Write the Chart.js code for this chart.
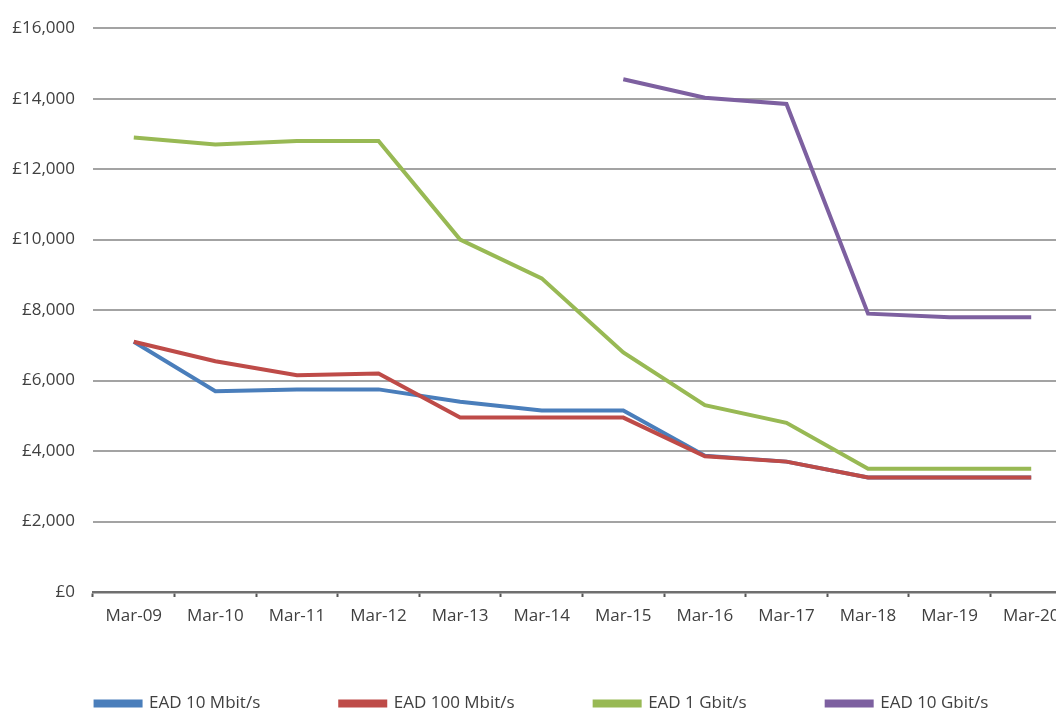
<!DOCTYPE html>
<html>
<head>
<meta charset="utf-8">
<script src="https://cdn.jsdelivr.net/npm/chart.js@4"></script>
<style>
  html, body { margin: 0; padding: 0; background: #ffffff; overflow: hidden; }
  #wrap { position: relative; width: 1072px; height: 722px; }
</style>
</head>
<body>
<div id="wrap"><canvas id="chart"></canvas></div>
<script>
// Month labels along the x axis
const months = ['Mar-09', 'Mar-10', 'Mar-11', 'Mar-12', 'Mar-13', 'Mar-14',
                'Mar-15', 'Mar-16', 'Mar-17', 'Mar-18', 'Mar-19', 'Mar-20'];

// Annual EAD rental prices (GBP)
const ead10Mbit  = [7100, 5700, 5750, 5750, 5400, 5150, 5150, 3870, 3700, 3250, 3250, 3250];
const ead100Mbit = [7100, 6550, 6150, 6200, 4950, 4950, 4950, 3850, 3700, 3250, 3250, 3250];
const ead1Gbit   = [12900, 12700, 12800, 12800, 10000, 8900, 6800, 5300, 4800, 3500, 3500, 3500];
const ead10Gbit  = [null, null, null, null, null, null, 14550, 14025, 13850, 7900, 7800, 7800];

// Y axis range and step
const yMin = 0, yMax = 16000, yStep = 2000;

// Later series are painted over earlier ones (lower order = on top)
const series = [
  { label: 'EAD 10 Mbit/s',  data: ead10Mbit,  color: '#4a7ebb', order: 4 },
  { label: 'EAD 100 Mbit/s', data: ead100Mbit, color: '#be4b48', order: 3 },
  { label: 'EAD 1 Gbit/s',   data: ead1Gbit,   color: '#98b954', order: 2 },
  { label: 'EAD 10 Gbit/s',  data: ead10Gbit,  color: '#7d60a0', order: 1 }
];

const fontFamily = '"Open Sans", Lato, sans-serif';
const textColor = '#404040';

// The x axis box is kept short so the wide legend spacing fits below it;
// widen the axis label clip region afterwards so the month labels stay whole.
const xLabelRoom = {
  id: 'xLabelRoom',
  afterLayout(chart) {
    const x = chart.scales.x;
    x.bottom = x.top + 44;
    x.height = 44;
  }
};

new Chart(document.getElementById('chart'), {
  type: 'line',
  data: {
    labels: months,
    datasets: series.map(s => ({
      label: s.label,
      data: s.data,
      order: s.order,
      borderColor: s.color,
      backgroundColor: s.color,
      borderWidth: 4,
      pointRadius: 0,
      pointHoverRadius: 0,
      tension: 0,
      spanGaps: false
    }))
  },
  plugins: [xLabelRoom],
  options: {
    responsive: true,
    maintainAspectRatio: false,
    animation: false,
    layout: { padding: { top: 25, right: 0, bottom: 0, left: 12 } },
    plugins: {
      tooltip: { enabled: false },
      legend: {
        position: 'bottom',
        labels: {
          boxWidth: 45,
          boxHeight: 4,
          padding: 80,
          color: textColor,
          font: { family: fontFamily, size: 17 },
          sort: (a, b) => a.datasetIndex - b.datasetIndex
        }
      }
    },
    scales: {
      x: {
        offset: true,
        grid: {
          offset: true,
          drawOnChartArea: false,
          drawTicks: true,
          tickLength: 5,
          tickWidth: 2,
          tickColor: '#555555'
        },
        border: { display: true, color: '#6f6f6f', width: 2.5 },
        ticks: {
          color: textColor,
          padding: 9,
          maxRotation: 0,
          autoSkip: false,
          font: { family: fontFamily, size: 17 }
        },
        afterFit: scale => { scale.height = 23; }
      },
      y: {
        min: yMin,
        max: yMax,
        ticks: {
          stepSize: yStep,
          color: textColor,
          padding: 18,
          font: { family: fontFamily, size: 17 },
          callback: v => '£' + v.toLocaleString('en-GB')
        },
        grid: {
          drawTicks: false,
          color: ctx => ctx.tick && ctx.tick.value === 0 ? 'rgba(0,0,0,0)' : '#a3a3a3',
          lineWidth: 2
        },
        border: { display: false },
        afterFit: scale => { scale.width = 81; }
      }
    }
  }
});
</script>
</body>
</html>
